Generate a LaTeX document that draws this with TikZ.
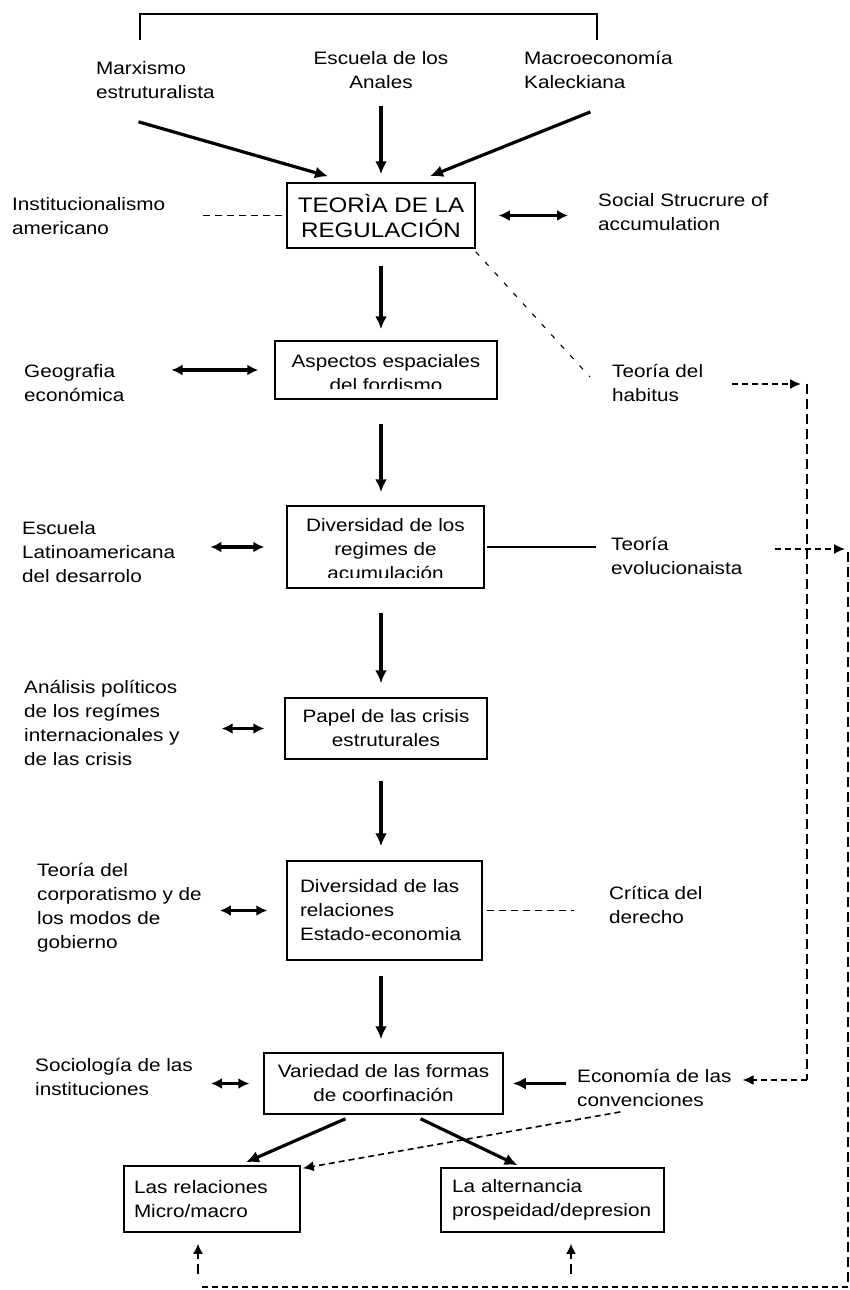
\documentclass[tikz,border=0pt]{standalone}
\usepackage{fontspec}
\setmainfont{Liberation Sans}[FakeStretch=1.15]
\usetikzlibrary{arrows.meta,positioning,calc}

\tikzset{
  box/.style={draw,line width=1.5pt,inner sep=0pt,align=center},
  lbl/.style={anchor=west,inner sep=0pt,align=left},
  arr/.style={line width=3.2pt,-{Latex[length=13pt,width=12pt]}},
  dbl/.style={line width=3.2pt,{Latex[length=11pt,width=11pt]}-{Latex[length=11pt,width=11pt]}},
  dsh/.style={line width=1.1pt,dash pattern=on 7pt off 5pt},
  dshar/.style={line width=1.6pt,dash pattern=on 6pt off 4pt,-{Latex[length=11pt,width=10pt]}},
  vdsh/.style={line width=1.6pt,dash pattern=on 10pt off 5pt},
}

\begin{document}
\begin{tikzpicture}[x=1pt,y=-1pt,font=\fontsize{18}{24}\selectfont]
\useasboundingbox (0,0) rectangle (849,1290);

% sources at the top
\coordinate (brL) at (140,40);
\coordinate (brR) at (597,40);
\draw[line width=1.4pt] (brL) -- ++(0,-26) -| (brR);
\node[lbl] (marx) at (96,80) {Marxismo\\estruturalista};
\node[inner sep=0pt,align=center] (anales) at (381,70) {Escuela de los\\Anales};
\node[lbl] (macro) at (524,70) {Macroeconomía\\Kaleckiana};

% central column
\node[box,minimum width=188pt,minimum height=65pt,font=\fontsize{21}{25}\selectfont] (teo) at (381,215.5) {TEORÌA DE LA\\REGULACIÓN};
\node[box,minimum width=222pt,minimum height=58pt] (asp) at (386,370) {};
\begin{scope}
\clip (asp.north west) rectangle ($(asp.south east)+(0,-11)$);
\node[inner sep=0pt,align=center,anchor=north] (asptxt) at ($(asp.north)+(0,14)$) {Aspectos espaciales\\del fordismo};
\end{scope}
\node[box,minimum width=197pt,minimum height=82pt] (div) at (385.5,547) {};
\begin{scope}
\clip (div.north west) rectangle ($(div.south east)+(0,-11)$);
\node[inner sep=0pt,align=center,anchor=north] (divtxt) at ($(div.north)+(0,13)$) {Diversidad de los\\regimes de\\acumulación};
\end{scope}
\node[box,minimum width=202pt,minimum height=61pt] (pap) at (386,728.5) {Papel de las crisis\\estruturales};
\node[box,minimum height=99pt,inner xsep=13pt,text width=169pt,align=left] (rel) at (384.5,910.5) {Diversidad de las\\relaciones\\Estado-economia};
\node[box,minimum width=239pt,minimum height=61pt] (var) at (383.5,1083.5) {Variedad de las formas\\de coorfinación};
\node[box,minimum height=66pt,inner xsep=10pt,text width=156pt,align=left] (mic) at (212,1199) {Las relaciones\\Micro/macro};
\node[box,minimum height=64pt,inner xsep=11pt,text width=201pt,align=left] (alt) at (552.5,1200) {La alternancia\\prospeidad/depresion};

% side labels
\node[lbl] (inst) at (12,216) {Institucionalismo\\americano};
\node[lbl] (social) at (598,212) {Social Strucrure of\\accumulation};
\node[lbl] (geo) at (24,383) {Geografia\\económica};
\node[lbl] (habitus) at (612,383) {Teoría del\\habitus};
\node[lbl] (esclat) at (22,552) {Escuela\\Latinoamericana\\del desarrolo};
\node[lbl] (evol) at (611,556) {Teoría\\evolucionaista};
\node[lbl] (analisis) at (24,723) {Análisis políticos\\de los regímes\\internacionales y\\de las crisis};
\node[lbl] (corp) at (37,908) {Teoría del\\corporatismo y de\\los modos de\\gobierno};
\node[lbl] (critica) at (609,905) {Crítica del\\derecho};
\node[lbl] (socio) at (35,1077) {Sociología de las\\instituciones};
\node[lbl] (econ) at (577,1088) {Economía de las\\convenciones};

% arrows into the theory
\draw[arr] ($(marx.south)+(-17,23)$) -- ($(teo.north)+(-53,-6)$);
\draw[arr] ($(anales.south)+(0,17)$) -- ($(teo.north)+(0,-8)$);
\draw[arr] ($(macro.south)+(-8,23)$) -- ($(teo.north)+(49,-6)$);
\draw[dsh,shorten <=38pt] (inst.east |- teo.west) -- (teo.west);
\draw[dbl,shorten <=23pt,shorten >=30pt] (teo.east) -- (teo.east -| social.west);
\draw[line width=1.1pt,dash pattern=on 5pt off 9pt] ($(teo.south east)+(0,3)$) -- ($(habitus.west)+(-22,-6)$);

% down the column
\draw[arr,shorten <=17pt,shorten >=11pt] (teo.south) -- (teo.south |- asp.north);
\draw[arr,shorten <=24pt,shorten >=13pt] (teo.south |- asp.south) -- (teo.south |- div.north);
\draw[arr,shorten <=24pt,shorten >=14pt] (teo.south |- div.south) -- (teo.south |- pap.north);
\draw[arr,shorten <=21pt,shorten >=14pt] (teo.south |- pap.south) -- (teo.south |- rel.north);
\draw[arr,shorten <=15pt,shorten >=13pt] (teo.south |- rel.south) -- (teo.south |- var.north);
\draw[arr] ($(var.south)+(-38,4)$) -- ($(mic.north)+(34,-3)$);
\draw[arr] ($(var.south)+(37,4)$) -- ($(alt.north)+(-35,-2)$);

% links to the side labels
\draw[dbl,shorten <=47pt,shorten >=16pt] (geo.east |- asp.west) -- (asp.west);
\draw[dbl,shorten <=35pt,shorten >=22pt] (esclat.east |- div.west) -- (div.west);
\draw[line width=1.5pt,shorten <=2pt,shorten >=15pt] (div.east) -- (div.east -| evol.west);
\draw[dbl,shorten <=42pt,shorten >=20pt] (analisis.east |- pap.west) -- (pap.west);
\draw[dbl,shorten <=18pt,shorten >=19pt] (corp.east |- rel.west) -- (rel.west);
\draw[dsh,shorten <=4pt,shorten >=35pt] (rel.east) -- (rel.east -| critica.west);
\draw[dbl,shorten <=18pt,shorten >=14pt] (socio.east |- var.west) -- (var.west);
\draw[arr,shorten <=11pt,shorten >=9pt] (econ.west |- var.east) -- (var.east);
\draw[dshar] ($(econ.south)+(-34,5)$) -- ($(mic.north east)+(2,3)$);

% dashed return paths on the right
\coordinate (hR) at (807,384);
\coordinate (hB) at (807,1080);
\coordinate (eR) at (848,549);
\coordinate (eB) at (848,1287);
\coordinate (eL) at (200,1287);
\draw[dshar] ($(habitus.east |- hR)+(29,0)$) -- ($(hR)+(-6,0)$);
\draw[vdsh] (hR) -- (hB);
\draw[dshar] (hB) -- ($(econ.east |- hB)+(11,0)$);
\draw[dshar] ($(evol.east |- eR)+(32,0)$) -- ($(eR)+(-3,0)$);
\draw[vdsh] ($(eR)+(0,3)$) -- (eB);
\draw[line width=2.2pt,dash pattern=on 6pt off 4pt] (eB) -- (eL);
\coordinate (b1) at (198,1274);
\coordinate (b2) at (571,1274);
\draw[line width=1.8pt,dash pattern=on 10pt off 5pt,-{Latex[length=10pt,width=10pt]}] (b1) -- ($(b1 |- mic.south)+(0,11)$);
\draw[line width=1.8pt,dash pattern=on 10pt off 5pt,-{Latex[length=10pt,width=10pt]}] (b2) -- ($(b2 |- alt.south)+(0,11)$);
\end{tikzpicture}
\end{document}
